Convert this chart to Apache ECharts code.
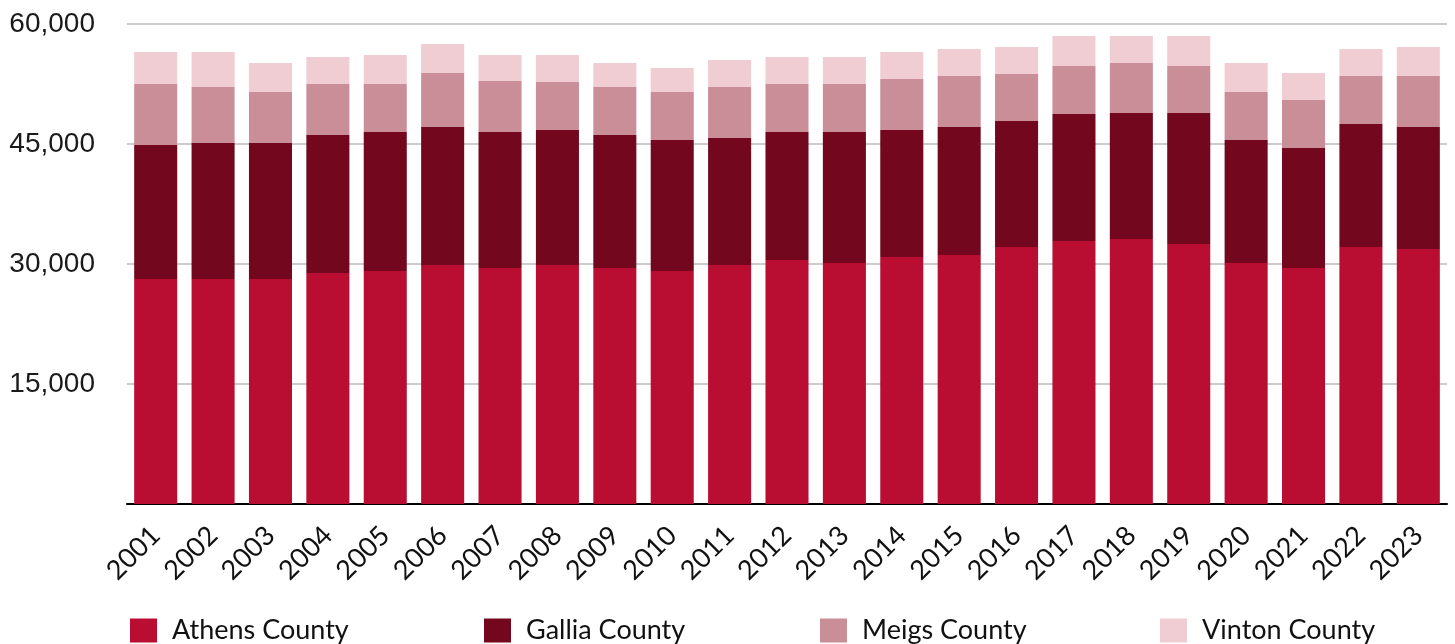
<!DOCTYPE html>
<html>
<head>
<meta charset="utf-8">
<script src="https://cdn.jsdelivr.net/npm/echarts@6/dist/echarts.min.js"></script>
<style>
html,body{margin:0;padding:0;background:#fff;}
#chart{width:1455px;height:644px;}
</style>
</head>
<body>
<div id="chart"></div>
<script>
const years = ['2001','2002','2003','2004','2005','2006','2007','2008','2009','2010','2011','2012','2013','2014','2015','2016','2017','2018','2019','2020','2021','2022','2023'];
const athens = [28125,28125,28125,28875,29125,29875,29500,29875,29500,29125,29875,30500,30125,30875,31125,32125,32875,33125,32500,30125,29500,32125,31875];
const gallia = [16750,17000,17000,17250,17375,17250,17000,16875,16625,16375,15875,16000,16375,15875,16000,15750,15875,15750,16375,15375,15000,15375,15250];
const meigs  = [7625,7000,6375,6375,6000,6750,6375,6000,6000,6000,6375,6000,6000,6375,6375,5875,6000,6250,5875,6000,6000,6000,6375];
const vinton = [4000,4375,3625,3375,3625,3625,3250,3375,3000,3000,3375,3375,3375,3375,3375,3375,3750,3375,3750,3625,3375,3375,3625];
const seriesNames = ['Athens County','Gallia County','Meigs County','Vinton County'];
const colors = ['#B90E31','#72071D','#CA8E99','#F0CCD3'];
const yTicks = {min:0, max:60000, interval:15000};

const chart = echarts.init(document.getElementById('chart'));
const dataSets = [athens, gallia, meigs, vinton];
const legendLefts = [130, 484, 820, 1160];
const textFont = 'Lato';
chart.setOption({
  animation:false,
  grid:{left:127, right:8, top:24, bottom:140, containLabel:false},
  legend: seriesNames.map((n,i)=>({
    data:[n], left:legendLefts[i], top:617, padding:0, itemWidth:27, itemHeight:24, itemGap:16,
    icon:'rect', selectedMode:false,
    textStyle:{fontFamily:textFont, fontSize:27, color:'#111', padding:[0,0,0,10]}
  })),
  xAxis:{
    type:'category', data:years,
    axisLine:{lineStyle:{color:'#000', width:2}},
    axisTick:{show:false},
    axisLabel:{rotate:45, fontFamily:textFont, fontSize:27, color:'#111', margin:27, interval:0}
  },
  yAxis:{
    type:'value', min:yTicks.min, max:yTicks.max, interval:yTicks.interval,
    axisLine:{show:false}, axisTick:{show:false},
    splitLine:{lineStyle:{color:'#BBBBBB', width:1.5}},
    axisLabel:{fontFamily:'Liberation Sans', fontSize:28, color:'#1a1a1a', margin:32,
      formatter:v=> v===0 ? '' : v.toLocaleString('en-US')}
  },
  series: seriesNames.map((n,i)=>({
    name:n, type:'bar', stack:'total', data:dataSets[i], barWidth:'75%',
    itemStyle:{color:colors[i]}
  }))
});
</script>
</body>
</html>
